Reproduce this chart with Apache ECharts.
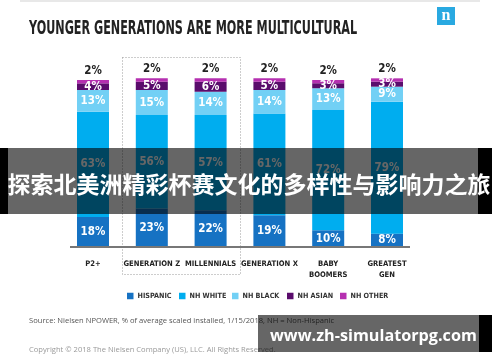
<!DOCTYPE html>
<html><head><meta charset="utf-8">
<script src="https://cdn.jsdelivr.net/npm/echarts@6/dist/echarts.min.js"></script>
<style>html,body{margin:0;padding:0;background:#fff}#c{width:500px;height:362px}</style>
</head><body><div id="c"></div>
<script>
const categories = ['P2+', 'GENERATION Z', 'MILLENNIALS', 'GENERATION X', 'BABY\nBOOMERS', 'GREATEST\nGEN'];
const hispanic = [18, 23, 22, 19, 10, 8];
const nhWhite = [63, 56, 57, 61, 72, 79];
const nhBlack = [13, 15, 14, 14, 13, 9];
const nhAsian = [4, 5, 6, 5, 3, 3];
const nhOther = [2, 2, 2, 2, 2, 2];
const seriesNames = ['HISPANIC', 'NH WHITE', 'NH BLACK', 'NH ASIAN', 'NH OTHER'];
const colors = ['#1672c3', '#00adef', '#72d0f5', '#5a0c6c', '#b52fb0'];

const NARROW = "'DejaVu Sans Condensed', 'Liberation Sans Narrow', sans-serif";
const chart = echarts.init(document.getElementById('c'), null, {renderer: 'canvas'});

const values = [hispanic, nhWhite, nhBlack, nhAsian, nhOther];
const series = values.map((arr, i) => ({
  name: seriesNames[i],
  type: 'bar',
  stack: 'total',
  barWidth: 32,
  data: arr,
  itemStyle: {color: colors[i]},
  label: {
    show: true,
    position: i === 4 ? 'top' : 'inside',
    distance: 3,
    formatter: '{c}%',
    color: i === 4 ? '#222' : '#fff',
    fontFamily: NARROW,
    fontWeight: 'bold',
    fontSize: 11.5
  }
}));

const legendLefts = [127, 179, 232, 287, 340];
const legends = seriesNames.map((n, i) => ({
  data: [n],
  left: legendLefts[i],
  top: 292.5,
  icon: 'rect',
  itemWidth: 6.5,
  itemHeight: 6.5,
  itemGap: 0,
  padding: 0,
  selectedMode: false,
  textStyle: {fontFamily: NARROW, fontSize: 7.2, fontWeight: 'bold', color: '#333', padding: [0, 0, 0, -1]}
}));

chart.setOption({
  animation: false,
  color: colors,
  legend: legends,
  grid: {left: 63.6, right: 83.6, top: 63.3, bottom: 115},
  xAxis: {
    type: 'category',
    data: categories,
    axisLine: {show: false},
    axisTick: {show: false},
    axisLabel: {fontFamily: NARROW, fontWeight: 'bold', fontSize: 7.6, color: '#222', margin: 12, lineHeight: 11, interval: 0}
  },
  yAxis: {type: 'value', min: 0, max: 110, show: false},
  series: series,
  graphic: [
    {type: 'rect', shape: {x: 20, y: 0, width: 460, height: 2}, style: {fill: '#e8e8e8'}},
    {type: 'text', x: 29, y: 29, scaleX: 0.655, style: {text: 'YOUNGER GENERATIONS ARE MORE MULTICULTURAL', font: "bold 19px 'DejaVu Sans Condensed', sans-serif", fill: '#222', textVerticalAlign: 'middle'}},
    {type: 'rect', shape: {x: 437, y: 7, width: 18, height: 18}, style: {fill: '#29a9e1'}},
    {type: 'text', x: 446, y: 16, style: {text: 'n', font: "bold 16px 'Liberation Serif', serif", fill: '#fff', textAlign: 'center', textVerticalAlign: 'middle'}},
    {type: 'rect', shape: {x: 122.5, y: 57.5, width: 118, height: 217}, style: {fill: 'none', stroke: '#9a9a9a', lineWidth: 1, lineDash: [1, 2]}},
    {type: 'line', shape: {x1: 70, y1: 247, x2: 410, y2: 247}, style: {stroke: '#777', lineWidth: 2}, z: 10},
    {type: 'text', x: 29, y: 321, style: {text: 'Source: Nielsen NPOWER, % of average scaled installed, 1/15/2018, NH = Non-Hispanic', font: "7.6px 'Open Sans', sans-serif", fill: '#555', textVerticalAlign: 'middle'}},
    {type: 'text', x: 29, y: 350, style: {text: 'Copyright © 2018 The Nielsen Company (US), LLC. All Rights Reserved.', font: "7.6px 'Open Sans', sans-serif", fill: '#999', textVerticalAlign: 'middle'}},
    {type: 'rect', z: 100, shape: {x: 0, y: 148, width: 8, height: 66}, style: {fill: '#000'}},
    {type: 'rect', z: 100, shape: {x: 8, y: 148, width: 470, height: 66}, style: {fill: 'rgba(0,0,0,0.6)'}},
    {type: 'rect', z: 100, shape: {x: 478, y: 148, width: 14, height: 66}, style: {fill: '#000'}},
    {type: 'text', z: 101, x: 249, y: 184, style: {text: '探索北美洲精彩杯赛文化的多样性与影响力之旅', font: "bold 23px 'Noto Sans CJK SC', sans-serif", fill: '#fff', textAlign: 'center', textVerticalAlign: 'middle'}},
    {type: 'rect', z: 100, shape: {x: 258, y: 315, width: 221, height: 37}, style: {fill: 'rgba(0,0,0,0.6)'}},
    {type: 'rect', z: 100, shape: {x: 479, y: 315, width: 13, height: 37}, style: {fill: '#000'}},
    {type: 'text', z: 101, x: 270, y: 336, style: {text: 'www.zh-simulatorpg.com', font: "bold 16.2px 'Open Sans', sans-serif", fill: '#fff', textVerticalAlign: 'middle'}}
  ]
});
</script></body></html>
